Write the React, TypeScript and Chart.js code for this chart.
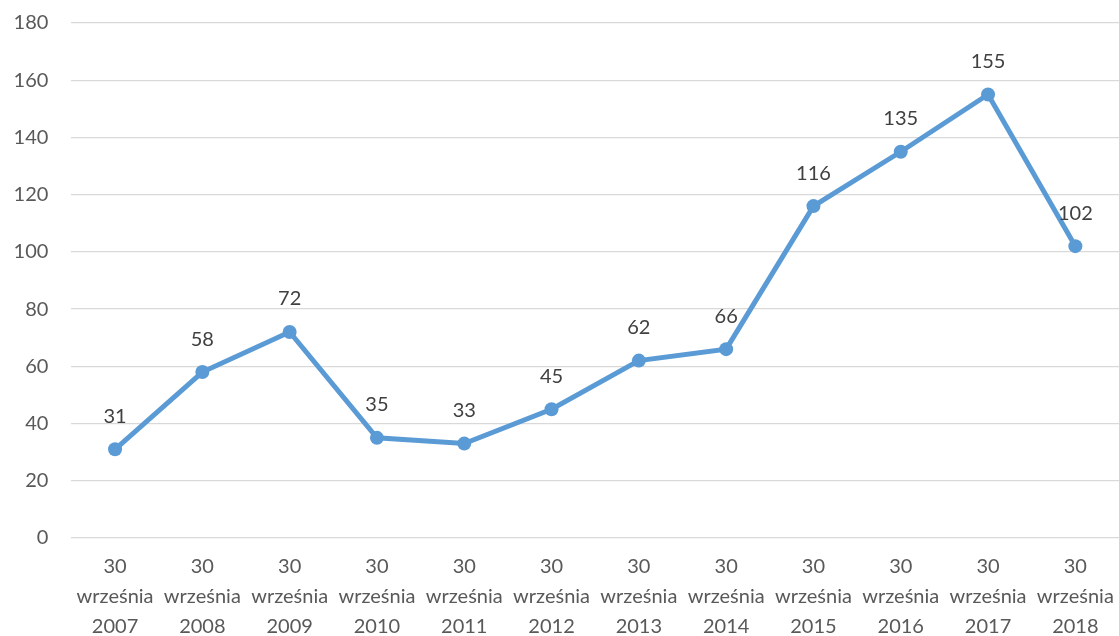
import React, { useEffect, useRef } from "react";
import { Chart, registerables } from "chart.js";

Chart.register(...registerables);

const categories: string[][] = [
  ["30", "września", "2007"],
  ["30", "września", "2008"],
  ["30", "września", "2009"],
  ["30", "września", "2010"],
  ["30", "września", "2011"],
  ["30", "września", "2012"],
  ["30", "września", "2013"],
  ["30", "września", "2014"],
  ["30", "września", "2015"],
  ["30", "września", "2016"],
  ["30", "września", "2017"],
  ["30", "września", "2018"],
];
const values: number[] = [31, 58, 72, 35, 33, 45, 62, 66, 116, 135, 155, 102];
const yMin = 0;
const yMax = 180;
const yStep = 20;

const FONT = "Lato, 'Open Sans', 'Liberation Sans', sans-serif";

const dataLabels = {
  id: "dataLabels",
  afterDatasetsDraw(chart: any) {
    const ctx = chart.ctx;
    const meta = chart.getDatasetMeta(0);
    ctx.save();
    ctx.font = `20px ${FONT}`;
    ctx.fillStyle = "#404040";
    ctx.textAlign = "center";
    ctx.textBaseline = "middle";
    meta.data.forEach((pt: any, i: number) => {
      ctx.fillText(String(values[i]), pt.x, pt.y - 33);
    });
    ctx.restore();
  },
};

export default function App() {
  const ref = useRef<HTMLCanvasElement | null>(null);
  useEffect(() => {
    if (!ref.current) return;
    const chart = new Chart(ref.current, {
      type: "line",
      data: {
        labels: categories,
        datasets: [
          {
            data: values,
            borderColor: "#5B9BD5",
            backgroundColor: "#5B9BD5",
            borderWidth: 5,
            pointRadius: 7,
            pointHoverRadius: 7,
            pointBackgroundColor: "#5B9BD5",
            pointBorderWidth: 0,
            tension: 0,
            fill: false,
            clip: false,
          },
        ],
      },
      options: {
        animation: false,
        responsive: false,
        maintainAspectRatio: false,
        layout: { autoPadding: false, padding: { top: 23, right: 0, left: 0, bottom: 0 } },
        plugins: {
          legend: { display: false },
          tooltip: { enabled: false },
        },
        scales: {
          x: {
            offset: true,
            grid: { display: false, drawTicks: false },
            border: { display: false },
            ticks: {
              color: "#595959",
              font: { family: FONT, size: 20, lineHeight: 1.5 },
              padding: 14,
              maxRotation: 0,
              autoSkip: false,
            },
            afterFit(scale: any) {
              scale.height = 98;
              scale.paddingLeft = 0;
              scale.paddingRight = 0;
            },
          },
          y: {
            min: yMin,
            max: yMax,
            grid: { color: "#D9D9D9", lineWidth: 1.3, drawTicks: false },
            border: { display: false },
            ticks: {
              stepSize: yStep,
              color: "#595959",
              font: { family: FONT, size: 20 },
              padding: 23,
            },
            afterFit(scale: any) {
              scale.width = 71.4;
              scale.paddingTop = 0;
              scale.paddingBottom = 0;
            },
          },
        },
      },
      plugins: [dataLabels],
    });
    return () => chart.destroy();
  }, []);
  return (
    <div style={{ position: "fixed", left: 0, top: 0, width: 1119, height: 636, background: "#fff" }}>
      <canvas ref={ref} width={1119} height={636} style={{ width: 1119, height: 636, display: "block" }} />
    </div>
  );
}
